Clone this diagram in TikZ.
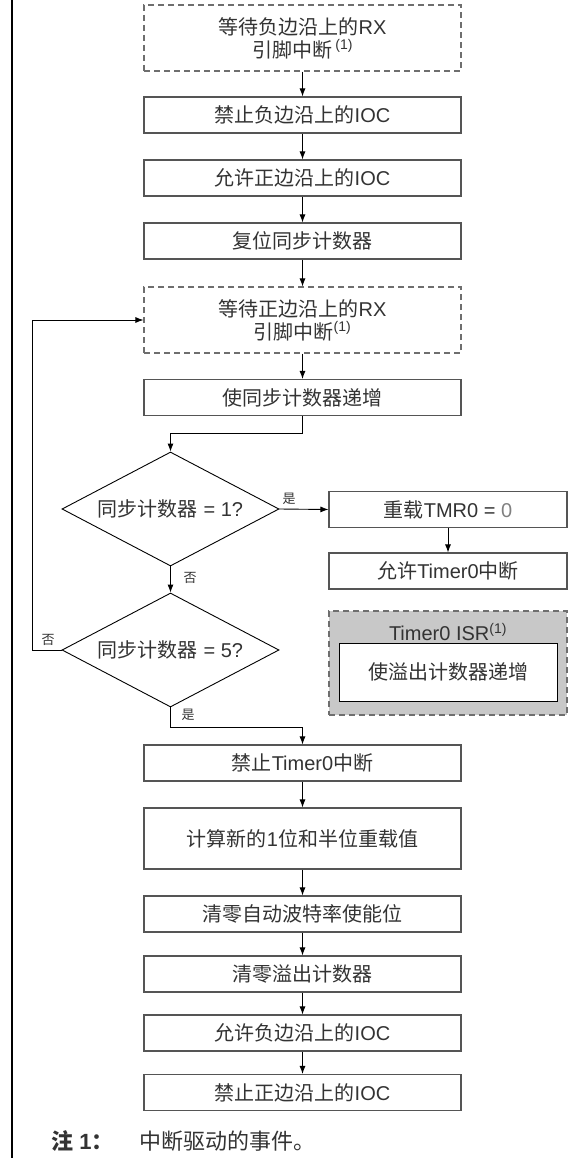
\documentclass[tikz,border=0pt]{standalone}
\usepackage{fontspec}
\setmainfont{Liberation Sans}
\newfontfamily\cjk{Noto Sans CJK SC}
\usetikzlibrary{shapes.geometric,arrows.meta}
\newcommand\zhtxt[1]{{\cjk #1}}
\definecolor{txt}{HTML}{333333}
\definecolor{boxline}{HTML}{555555}
\definecolor{dashline}{HTML}{6E6E6E}
\definecolor{isrfill}{HTML}{C8C8C8}
\begin{document}
\begin{tikzpicture}[x=1pt,y=-1pt,
  font=\fontsize{20}{23}\selectfont, text=txt,
  proc/.style={draw=boxline, line width=1.1pt, minimum width=317pt, minimum height=36pt, inner sep=0pt, align=center},
  waitbox/.style={proc, draw=dashline, dash pattern=on 6pt off 4pt, minimum height=66pt},
  rbox/.style={proc, minimum width=238pt},
  dia/.style={diamond, draw=black, line width=0.9pt, minimum width=217pt, minimum height=114pt, inner sep=0pt, aspect=1.9},
  arr/.style={-{Latex[length=8pt,width=6pt]}, line width=0.9pt, draw=black},
  lbl/.style={font=\cjk\fontsize{13}{15}\selectfont, inner sep=0pt}
]
\fill[white] (0,0) rectangle (584,1158);
\useasboundingbox (0,0) rectangle (584,1158);
\draw[line width=2pt, black] (12,0) -- (12,1158);

% main column
\node[waitbox] (b1) at (302.5,38) {\zhtxt{等待负边沿上的}RX\\\zhtxt{引脚中断}\,\textsuperscript{(1)}};
\node[proc] (b2) at (302.5,115) {\zhtxt{禁止负边沿上的}IOC};
\node[proc] (b3) at (302.5,178) {\zhtxt{允许正边沿上的}IOC};
\node[proc] (b4) at (302.5,241) {\zhtxt{复位同步计数器}};
\node[waitbox] (b5) at (302.5,320) {\zhtxt{等待正边沿上的}RX\\\zhtxt{引脚中断}\textsuperscript{(1)}};
\node[proc] (b6) at (302.5,397.5) {\zhtxt{使同步计数器递增}};

\node[dia] (d1) at (170.5,509) {\zhtxt{同步计数器} = 1?};
\node[dia] (d2) at (170.5,650) {\zhtxt{同步计数器} = 5?};

\node[rbox] (r1) at (448,509.5) {\zhtxt{重载}TMR0 = {\color{gray}0}};
\node[rbox] (r2) at (448,571) {\zhtxt{允许}Timer0\zhtxt{中断}};

\node[rbox, draw=dashline, dash pattern=on 6pt off 4pt, fill=isrfill, minimum height=104pt] (isr) at (448,663) {};
\node (isrt) at (448,632) {Timer0 ISR\textsuperscript{(1)}};
\node[proc, fill=white, draw=black, line width=1pt, minimum width=218pt, minimum height=58pt] (isrin) at (448,672) {\zhtxt{使溢出计数器递增}};

\node[proc] (b7) at (302.5,763) {\zhtxt{禁止}Timer0\zhtxt{中断}};
\node[proc, minimum height=61pt] (b8) at (302.5,838.5) {\zhtxt{计算新的}1\zhtxt{位和半位重载值}};
\node[proc] (b9) at (302.5,914) {\zhtxt{清零自动波特率使能位}};
\node[proc] (b10) at (302.5,974) {\zhtxt{清零溢出计数器}};
\node[proc] (b11) at (302.5,1033) {\zhtxt{允许负边沿上的}IOC};
\node[proc] (b12) at (302.5,1092.5) {\zhtxt{禁止正边沿上的}IOC};

% connectors
\draw[arr] (b1.south) -- (b2.north);
\draw[arr] (b2.south) -- (b3.north);
\draw[arr] (b3.south) -- (b4.north);
\draw[arr] (b4.south) -- (b5.north);
\draw[arr] (b5.south) -- (b6.north);
\draw[arr] (b6.south) -- ++(0,17) -| (d1.north);
\draw[arr] (d1.south) -- (d2.north);
\draw[arr] (d1.east) -- (r1.west);
\draw[arr] (r1.south) -- (r2.north);
\coordinate (loop) at (32,650);
\draw[arr] (d2.west) -- (loop) |- (b5.west);
\draw[arr] (d2.south) -- ++(0,20) -| (b7.north);
\draw[arr] (b7.south) -- (b8.north);
\draw[arr] (b8.south) -- (b9.north);
\draw[arr] (b9.south) -- (b10.north);
\draw[arr] (b10.south) -- (b11.north);
\draw[arr] (b11.south) -- (b12.north);

% labels
\node[lbl] (lyes1) at (289,499) {是};
\node[lbl] (lno1) at (190,578) {否};
\node[lbl] (lno2) at (48,640) {否};
\node[lbl] (lyes2) at (188,715) {是};

% note
\node[anchor=west, inner sep=0pt, font=\fontsize{22}{24}\selectfont\bfseries] (n1) at (51,1141) {\zhtxt{注} 1\zhtxt{：}};
\node[anchor=west, inner sep=0pt, font=\fontsize{22}{24}\selectfont] (n2) at (139,1141) {\zhtxt{中断驱动的事件。}};
\end{tikzpicture}
\end{document}
